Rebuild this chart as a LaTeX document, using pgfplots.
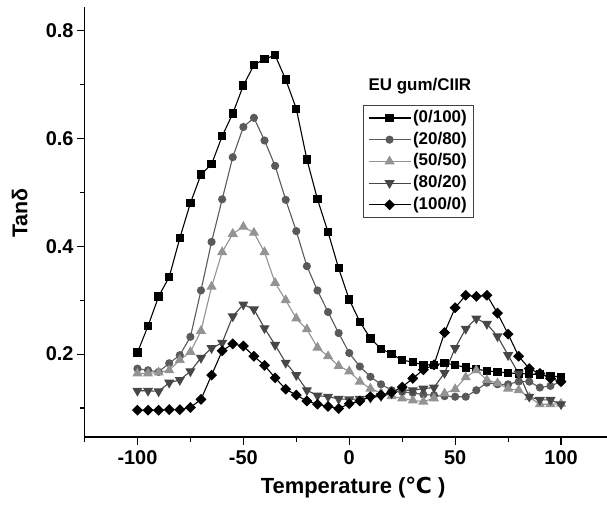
\documentclass[border=0pt]{standalone}
\usepackage{pgfplots}
\pgfplotsset{compat=1.18}
\usepackage{pgfplotstable}
\usepackage{fontspec}
\setmainfont{Liberation Sans}
\newfontfamily\dejavu{DejaVu Sans}
\definecolor{cgray}{HTML}{5A5A5A}
\definecolor{tgray}{HTML}{939393}
\definecolor{dgray}{HTML}{474747}
\pgfplotstableread{
T sq ci tu td di
-100 0.203 0.173 0.164 0.132 0.096
-95 0.252 0.170 0.164 0.132 0.096
-90 0.307 0.167 0.166 0.131 0.096
-85 0.343 0.183 0.170 0.147 0.097
-80 0.415 0.198 0.189 0.152 0.097
-75 0.480 0.232 0.204 0.168 0.101
-70 0.533 0.318 0.243 0.193 0.116
-65 0.552 0.408 0.325 0.211 0.161
-60 0.604 0.487 0.389 0.221 0.206
-55 0.646 0.565 0.423 0.270 0.219
-50 0.698 0.621 0.436 0.292 0.215
-45 0.736 0.638 0.425 0.283 0.196
-40 0.747 0.596 0.389 0.248 0.179
-35 0.754 0.549 0.332 0.217 0.156
-30 0.709 0.486 0.300 0.184 0.135
-25 0.655 0.428 0.266 0.161 0.124
-20 0.561 0.363 0.246 0.133 0.113
-15 0.487 0.318 0.212 0.123 0.107
-10 0.426 0.278 0.196 0.121 0.103
-5 0.359 0.239 0.178 0.117 0.099
0 0.301 0.202 0.168 0.116 0.108
5 0.260 0.177 0.149 0.117 0.113
10 0.229 0.158 0.136 0.119 0.121
15 0.210 0.144 0.128 0.122 0.124
20 0.200 0.133 0.122 0.127 0.129
25 0.189 0.130 0.118 0.133 0.139
30 0.185 0.128 0.114 0.133 0.155
35 0.180 0.125 0.112 0.136 0.171
40 0.180 0.124 0.118 0.138 0.180
45 0.183 0.122 0.127 0.165 0.240
50 0.180 0.121 0.135 0.211 0.286
55 0.175 0.121 0.157 0.247 0.309
60 0.172 0.133 0.170 0.266 0.307
65 0.169 0.147 0.152 0.256 0.309
70 0.167 0.144 0.146 0.233 0.276
75 0.165 0.144 0.136 0.198 0.237
80 0.164 0.149 0.133 0.164 0.196
85 0.163 0.149 0.120 0.121 0.173
90 0.162 0.138 0.107 0.115 0.164
95 0.159 0.141 0.107 0.115 0.155
100 0.158 0.149 0.108 0.107 0.149
}\data
\begin{document}
\begin{tikzpicture}
\begin{axis}[
  name=ax, scale only axis, width=522.5bp, height=430bp,
  xmin=-125, xmax=121.7, ymin=0.0463, ymax=0.8435,
  axis lines*=left, axis line style={line width=1.3bp},
  tick style={line width=1.1bp, black}, tick align=outside,
  major tick length=7.5bp, minor tick length=4.5bp,
  xtick={-100,-50,0,50,100}, minor xtick={-125,-75,-25,25,75},
  ytick={0.2,0.4,0.6,0.8}, minor ytick={0.1,0.3,0.5,0.7},
  ticklabel style={font=\fontsize{20}{24}\selectfont\bfseries},
  xticklabel style={yshift=-3bp},
  /pgf/number format/assume math mode=true,
  yticklabel style={/pgf/number format/.cd, fixed, precision=1, fixed zerofill},
  xlabel={Temperature ({\dejavu\bfseries ℃} )},
  xlabel style={at={(axis description cs:0.514,-0.118)}, anchor=center, font=\fontsize{22}{24}\selectfont\bfseries},
  ylabel={Tanδ},
  ylabel style={at={(axis description cs:-0.124,0.521)}, anchor=center, font=\fontsize{21.5}{24}\selectfont\bfseries},
  legend style={at={(axis description cs:0.639,0.641)}, anchor=center, draw=black!75, line width=0.8bp,
    font=\fontsize{17}{20}\selectfont\bfseries, fill=white, inner xsep=5bp, inner ysep=2bp,
    nodes={inner ysep=2.35bp, text height=13bp, text depth=4bp, anchor=west}},
  legend cell align=left,
  legend image code/.code={\draw[mark repeat=2, mark phase=2] plot coordinates {(0bp,0bp) (21bp,0bp) (42bp,0bp)};},
  every axis plot/.append style={line width=1.1bp},
]
\addplot[black, mark=square*, mark size=3.6bp, mark options={solid}] table[x=T, y=sq] {\data};
\addlegendentry{(0/100)}
\addplot[cgray, mark=*, mark size=3.5bp, mark options={solid, fill=cgray}] table[x=T, y=ci] {\data};
\addlegendentry{(20/80)}
\addplot[tgray, mark=triangle*, mark size=4.8bp, mark options={solid, fill=tgray}] table[x=T, y=tu] {\data};
\addlegendentry{(50/50)}
\addplot[dgray, mark=triangle*, mark size=4.8bp, mark options={solid, fill=dgray, rotate=180}] table[x=T, y=td] {\data};
\addlegendentry{(80/20)}
\addplot[black, mark=square*, mark size=3.3bp, mark options={solid, rotate=45}] table[x=T, y=di] {\data};
\addlegendentry{(100/0)}
\node[font=\fontsize{17}{20}\selectfont\bfseries] at (axis description cs:0.642,0.816) {EU gum/CIIR};
\end{axis}
\pgfresetboundingbox
\path (ax.south west) ++(-84.5bp,-68bp) rectangle ++(607bp,505bp);
\end{tikzpicture}
\end{document}
